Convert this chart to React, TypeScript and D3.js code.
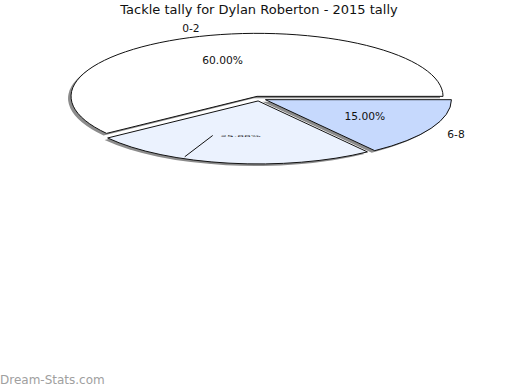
import React from "react";
import * as d3 from "d3";

const title = "Tackle tally for Dylan Roberton - 2015 tally";
const categories = ["0-2", "3-5", "6-8"];
const values = [60, 25, 15];
const percentLabels = ["60.00%", "25.00%", "15.00%"];
const colors = ["#ffffff", "#ebf2fe", "#c6d9fd"];
const showCategory = [true, false, true];
const squashedLabel = [false, true, false];
const watermark = "Dream-Stats.com";

const W = 520;
const H = 390;
const CX = 259.2;
const CY = 98.6;
const RX = 186;
const RY = 63;
const EXPLODE = 7;
const FONT = "DejaVu Sans, sans-serif";

type Slice = d3.PieArcDatum<number>;

function pt(cx: number, cy: number, t: number, f = 1): [number, number] {
  return [cx + RX * f * Math.cos(t), cy - RY * f * Math.sin(t)];
}

export default function App() {
  const pie = d3
    .pie<number>()
    .sort(null)
    .startAngle(0)
    .endAngle(Math.PI * 2)
    .value((d) => d);
  const arcs: Slice[] = pie(values);

  const geo = arcs.map((a) => {
    const mid = (a.startAngle + a.endAngle) / 2;
    const cx = CX + EXPLODE * Math.cos(mid);
    const cy = CY - EXPLODE * (RY / RX) * Math.sin(mid);
    const p0 = pt(cx, cy, a.startAngle);
    const p1 = pt(cx, cy, a.endAngle);
    const large = a.endAngle - a.startAngle > Math.PI ? 1 : 0;
    const d = `M${cx},${cy}L${p0[0]},${p0[1]}A${RX},${RY} 0 ${large} 0 ${p1[0]},${p1[1]}Z`;
    return { mid, cx, cy, d };
  });

  return (
    <svg
      width={W}
      height={H}
      style={{ position: "absolute", left: 0, top: 0, background: "#fff" }}
      fontFamily={FONT}
    >
      <defs>
        <filter id="sh" x="-10%" y="-10%" width="120%" height="120%">
          <feGaussianBlur stdDeviation="0.6" />
        </filter>
      </defs>
      <rect width={W} height={H} fill="#fff" />
      <text x={259} y={14} textAnchor="middle" fontSize={13} fill="#111">
        {title}
      </text>
      <g filter="url(#sh)">
        {geo.map((g, i) => (
          <path key={"s" + i} d={g.d} transform="translate(-3,2)" fill="#8c8c8c" />
        ))}
      </g>
      {geo.map((g, i) => (
        <path key={"p" + i} d={g.d} fill={colors[i]} stroke="#111" strokeWidth={1} />
      ))}
      {geo.map((g, i) => {
        const [lx, ly] = pt(g.cx, g.cy, g.mid, 0.6);
        if (squashedLabel[i]) {
          const la = g.mid - (15 * Math.PI) / 180;
          const [ax, ay] = pt(g.cx, g.cy, la, 0.97);
          const [bx, by] = pt(g.cx, g.cy, la, 0.6);
          return (
            <g key={"l" + i}>
              <line x1={ax} y1={ay} x2={bx} y2={by} stroke="#111" strokeWidth={1} />
              <text
                transform={`translate(${lx},${ly - 2.5}) scale(1,0.22)`}
                textAnchor="middle"
                dominantBaseline="central"
                fontSize={10.7}
                fill="#000"
              >
                {percentLabels[i]}
              </text>
            </g>
          );
        }
        return (
          <text
            key={"l" + i}
            x={lx}
            y={ly}
            textAnchor="middle"
            dominantBaseline="central"
            fontSize={10.7}
            fill="#111"
          >
            {percentLabels[i]}
          </text>
        );
      })}
      {geo.map((g, i) => {
        if (!showCategory[i]) return null;
        const [ox, oy] = pt(g.cx, g.cy, g.mid, 1.15);
        return (
          <text
            key={"c" + i}
            x={ox}
            y={oy + 1.5}
            textAnchor="middle"
            dominantBaseline="central"
            fontSize={10.7}
            fill="#111"
          >
            {categories[i]}
          </text>
        );
      })}
      <text x={0} y={384} fontSize={12} fill="#a0a0a0">
        {watermark}
      </text>
    </svg>
  );
}
